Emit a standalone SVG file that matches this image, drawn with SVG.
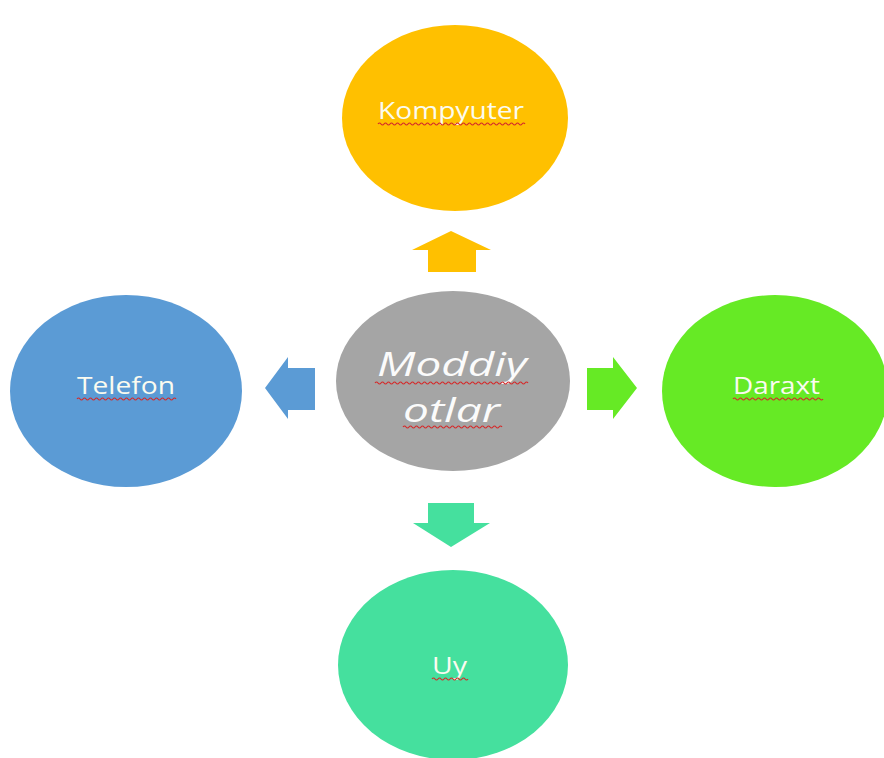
<svg xmlns="http://www.w3.org/2000/svg" width="884" height="758" viewBox="0 0 884 758">
<style>
.lbl{font-family:"Open Sans","Liberation Sans",sans-serif;fill:#fbfbf0;font-size:24px}
.big{font-family:"Open Sans","Liberation Sans",sans-serif;fill:#fbfbfb;font-size:33px;font-style:italic}
.wave{fill:none;stroke:#d42a2a;stroke-width:1.2}
</style>
<rect width="884" height="758" fill="#ffffff"/>
<g id="connectors">
<polygon points="451,231 491,250 476,250 476,272 428,272 428,250 412,250" fill="#ffc000"/>
<polygon points="265,388 288,357 288,368 315,368 315,410 288,410 288,419" fill="#5b9bd5"/>
<polygon points="637,388 613,357 613,368 587,368 587,410 613,410 613,419" fill="#66ea25"/>
<polygon points="451,547 490,523 474,523 474,503 428,503 428,523 413,523" fill="#45e09e"/>
</g>
<g id="kompyuter">
<ellipse cx="455" cy="118" rx="113" ry="93" fill="#ffc000"/>
<text class="lbl" x="378" y="119" textLength="146" lengthAdjust="spacingAndGlyphs">Kompyuter</text>
<path class="wave" d="M378 124 q1.5 -2 3 0 t3 0 t3 0 t3 0 t3 0 t3 0 t3 0 t3 0 t3 0 t3 0 t3 0 t3 0 t3 0 t3 0 t3 0 t3 0 t3 0 t3 0 t3 0 t3 0 t3 0 t3 0 t3 0 t3 0 t3 0 t3 0 t3 0 t3 0 t3 0 t3 0 t3 0 t3 0 t3 0 t3 0 t3 0 t3 0 t3 0 t3 0 t3 0 t3 0 t3 0 t3 0 t3 0 t3 0 t3 0 t3 0 t3 0 t3 0 t3 0"/>
</g>
<g id="moddiyotlar">
<ellipse cx="453" cy="381" rx="117" ry="90" fill="#a5a5a5"/>
<text class="big" x="377" y="376" textLength="150" lengthAdjust="spacingAndGlyphs">Moddiy</text>
<text class="big" x="403" y="422" textLength="97" lengthAdjust="spacingAndGlyphs">otlar</text>
<path class="wave" d="M375 383 q1.5 -2 3 0 t3 0 t3 0 t3 0 t3 0 t3 0 t3 0 t3 0 t3 0 t3 0 t3 0 t3 0 t3 0 t3 0 t3 0 t3 0 t3 0 t3 0 t3 0 t3 0 t3 0 t3 0 t3 0 t3 0 t3 0 t3 0 t3 0 t3 0 t3 0 t3 0 t3 0 t3 0 t3 0 t3 0 t3 0 t3 0 t3 0 t3 0 t3 0 t3 0 t3 0 t3 0 t3 0 t3 0 t3 0 t3 0 t3 0 t3 0 t3 0 t3 0 t3 0"/>
<path class="wave" d="M403 427 q1.5 -2 3 0 t3 0 t3 0 t3 0 t3 0 t3 0 t3 0 t3 0 t3 0 t3 0 t3 0 t3 0 t3 0 t3 0 t3 0 t3 0 t3 0 t3 0 t3 0 t3 0 t3 0 t3 0 t3 0 t3 0 t3 0 t3 0 t3 0 t3 0 t3 0 t3 0 t3 0 t3 0 t3 0"/>
</g>
<g id="telefon">
<ellipse cx="126" cy="391" rx="116" ry="96" fill="#5b9bd5"/>
<text class="lbl" x="77" y="394" textLength="98" lengthAdjust="spacingAndGlyphs">Telefon</text>
<path class="wave" d="M77 399 q1.5 -2 3 0 t3 0 t3 0 t3 0 t3 0 t3 0 t3 0 t3 0 t3 0 t3 0 t3 0 t3 0 t3 0 t3 0 t3 0 t3 0 t3 0 t3 0 t3 0 t3 0 t3 0 t3 0 t3 0 t3 0 t3 0 t3 0 t3 0 t3 0 t3 0 t3 0 t3 0 t3 0 t3 0"/>
</g>
<g id="daraxt">
<ellipse cx="775" cy="391" rx="113" ry="96" fill="#66ea25"/>
<text class="lbl" x="733" y="394" textLength="87" lengthAdjust="spacingAndGlyphs">Daraxt</text>
<path class="wave" d="M733 399 q1.5 -2 3 0 t3 0 t3 0 t3 0 t3 0 t3 0 t3 0 t3 0 t3 0 t3 0 t3 0 t3 0 t3 0 t3 0 t3 0 t3 0 t3 0 t3 0 t3 0 t3 0 t3 0 t3 0 t3 0 t3 0 t3 0 t3 0 t3 0 t3 0 t3 0 t3 0"/>
</g>
<g id="uy">
<ellipse cx="453" cy="665" rx="115" ry="95" fill="#45e09e"/>
<text class="lbl" x="432" y="674" textLength="35" lengthAdjust="spacingAndGlyphs">Uy</text>
<path class="wave" d="M432 679 q1.5 -2 3 0 t3 0 t3 0 t3 0 t3 0 t3 0 t3 0 t3 0 t3 0 t3 0 t3 0 t3 0"/>
</g>
</svg>
